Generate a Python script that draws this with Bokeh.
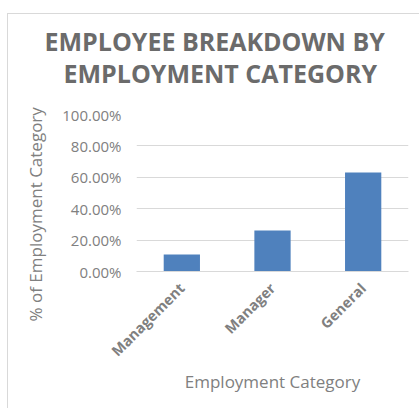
import math
from bokeh.plotting import figure
from bokeh.models import (ColumnDataSource, FactorRange, Range1d, NumeralTickFormatter,
                          FixedTicker, Title)
from bokeh.embed import file_html
from bokeh.resources import INLINE

# ---- data ----
categories = ["Management", "Manager", "General"]
shares = [0.109, 0.261, 0.630]
y_ticks = [0.0, 0.2, 0.4, 0.6, 0.8, 1.0]
title_lines = ["EMPLOYEE BREAKDOWN BY", "EMPLOYMENT CATEGORY"]
y_title = "% of Employment Category"
x_title = "Employment Category"

FONT = "Open Sans"
GRAY = "#808080"
TITLE_GRAY = "#6b6b6b"
GRID = "#d9d9d9"

source = ColumnDataSource(dict(cat=categories, val=shares))

p = figure(width=412, height=395, output_backend="svg", toolbar_location=None,
           x_range=FactorRange(factors=categories, range_padding=0),
           y_range=Range1d(0, 1.0),
           min_border_left=126, min_border_right=12, min_border_top=100,
           min_border_bottom=138)
p.margin = (13, 0, 0, 7)
p.styles = {"border-top": "1px solid #d9d9d9", "border-left": "1px solid #d9d9d9"}

p.vbar(x="cat", top="val", width=0.4, source=source, fill_color="#4f81bd",
       line_color=None)

p.outline_line_color = None
p.background_fill_color = "white"
p.border_fill_color = "white"

# y axis
p.yaxis.ticker = FixedTicker(ticks=y_ticks)
p.yaxis.formatter = NumeralTickFormatter(format="0.00%")
p.yaxis.axis_line_color = None
p.yaxis.major_tick_line_color = None
p.yaxis.minor_tick_line_color = None
p.yaxis.major_label_text_font = FONT
p.yaxis.major_label_text_font_size = "15px"
p.yaxis.major_label_text_color = GRAY
p.yaxis.major_label_standoff = 9

# x axis
p.xaxis.axis_line_color = GRID
p.xaxis.major_tick_line_color = None
p.xaxis.minor_tick_line_color = None
p.xaxis.major_label_orientation = math.pi / 4
p.xaxis.major_label_text_font = FONT
p.xaxis.major_label_text_font_style = "bold"
p.xaxis.major_label_text_font_size = "14.5px"
p.xaxis.major_label_text_color = GRAY
p.xaxis.major_label_standoff = 8
p.xaxis.axis_label = x_title
p.xaxis.axis_label_text_font = FONT
p.xaxis.axis_label_text_font_style = "normal"
p.xaxis.axis_label_text_font_size = "17px"
p.xaxis.axis_label_text_color = GRAY
p.xaxis.axis_label_standoff = 0

p.xgrid.grid_line_color = None
p.ygrid.grid_line_color = GRID
p.ygrid.grid_line_width = 1

# spacer between plot area and chart title
p.add_layout(Title(text=" ", text_font_size="1px", standoff=22), "above")
# chart titles (second line first: later ones stack further out)
p.add_layout(Title(text=title_lines[1], align="left", offset=-73, text_font=FONT,
                   text_font_style="bold", text_font_size="25px",
                   text_color=TITLE_GRAY, standoff=0), "above")
p.add_layout(Title(text=title_lines[0], align="left", offset=-92, text_font=FONT,
                   text_font_style="bold", text_font_size="25px",
                   text_color=TITLE_GRAY, standoff=-8), "above")

# y axis title
p.add_layout(Title(text=y_title, align="left", offset=-50, text_font=FONT,
                   text_font_style="normal", text_font_size="17px",
                   text_color=GRAY, standoff=26), "left")

open("out.html", "w").write(file_html(p, INLINE))
